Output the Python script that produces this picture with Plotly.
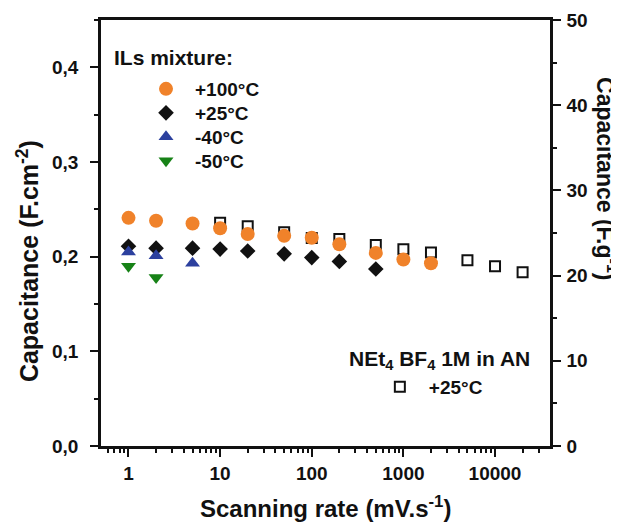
import plotly.graph_objects as go

# ---- data ----
rate_100C = [1, 2, 5, 10, 20, 50, 100, 200, 500, 1000, 2000]
cap_100C = [0.241, 0.238, 0.235, 0.230, 0.224, 0.222, 0.220, 0.213, 0.204, 0.197, 0.193]

rate_25C = [1, 2, 5, 10, 20, 50, 100, 200, 500]
cap_25C = [0.211, 0.209, 0.209, 0.208, 0.206, 0.203, 0.199, 0.195, 0.187]

rate_m40C = [1, 2, 5]
cap_m40C = [0.205, 0.201, 0.193]

rate_m50C = [1, 2]
cap_m50C = [0.190, 0.178]

rate_AN = [10, 20, 50, 100, 200, 500, 1000, 2000, 5000, 10000, 20000]
cap_AN_Fg = [26.2, 25.8, 25.1, 24.4, 24.3, 23.6, 23.1, 22.7, 21.8, 21.1, 20.4]

left_ticks = [0, 0.1, 0.2, 0.3, 0.4]
left_ticktext = ["0,0", "0,1", "0,2", "0,3", "0,4"]
right_ticks = [0, 10, 20, 30, 40, 50]
x_ticks = [1, 10, 100, 1000, 10000]
x_ticktext = ["1", "10", "100", "1000", "10000"]
x_minor = [m * d for d in [0.1, 1, 10, 100, 1000, 10000] for m in range(2, 10)
           if 0.5 <= m * d <= 40000]

FONT = "Liberation Sans, Arial, Helvetica, sans-serif"
ORANGE = "#F0822A"
BLACK = "#111111"
BLUE = "#2C409E"
GREEN = "#178217"

fig = go.Figure()

fig.add_trace(go.Scatter(x=rate_AN, y=cap_AN_Fg, mode="markers", yaxis="y2",
                         name="+25°C", legend="legend2",
                         marker=dict(symbol="square-open", size=10, color=BLACK,
                                     line=dict(width=2, color=BLACK))))
fig.add_trace(go.Scatter(x=rate_25C, y=cap_25C, mode="markers", name="+25°C",
                         legend="legend3",
                         marker=dict(symbol="diamond", size=12, color=BLACK)))
fig.add_trace(go.Scatter(x=rate_m40C, y=cap_m40C, mode="markers", name="-40°C",
                         legend="legend4",
                         marker=dict(symbol="triangle-up", size=13, color=BLUE)))
fig.add_trace(go.Scatter(x=rate_m50C, y=cap_m50C, mode="markers", name="-50°C",
                         legend="legend5",
                         marker=dict(symbol="triangle-down", size=13, color=GREEN)))
fig.add_trace(go.Scatter(x=rate_100C, y=cap_100C, mode="markers", name="+100°C",
                         legend="legend",
                         marker=dict(symbol="circle", size=14, color=ORANGE)))

axis_common = dict(showline=True, linecolor=BLACK, linewidth=2.5, ticks="outside",
                   tickcolor=BLACK, tickwidth=2, ticklen=8, showgrid=False, zeroline=False,
                   automargin=False,
                   tickfont=dict(family=FONT, size=19, color=BLACK, weight="bold"))


def leg(x, y, size=19):
    return dict(x=x, y=y, xanchor="left", yanchor="middle", itemwidth=48,
                bgcolor="rgba(0,0,0,0)", borderwidth=0,
                font=dict(family=FONT, size=size, color=BLACK, weight="bold"))


fig.update_layout(
    width=611, height=514,
    margin=dict(l=93, r=69, t=12, b=76, autoexpand=False),
    paper_bgcolor="white", plot_bgcolor="white",
    font=dict(family=FONT, color=BLACK, size=16),
    xaxis=dict(type="log", range=[-0.3, 4.6], tickvals=x_ticks, ticktext=x_ticktext,
               mirror=True,
               minor=dict(tickvals=x_minor, ticks="outside", ticklen=4, tickwidth=1.5,
                          tickcolor=BLACK),
               **axis_common),
    yaxis2=dict(range=[0, 50], tickvals=right_ticks, side="right", anchor="x",
                ticklabelstandoff=2,
                minor=dict(dtick=5, ticks="outside", ticklen=4, tickwidth=1.5,
                           tickcolor=BLACK),
                **axis_common),
    yaxis=dict(range=[0, 0.45], tickvals=left_ticks, ticktext=left_ticktext,
               overlaying="y2", side="left", ticklabelstandoff=8,
               minor=dict(dtick=0.05, ticks="outside", ticklen=4, tickwidth=1.5,
                          tickcolor=BLACK),
               **axis_common),
    legend=leg(0.0802, 0.838),
    legend3=leg(0.0802, 0.7817),
    legend4=leg(0.0802, 0.7254),
    legend5=leg(0.0802, 0.669),
    legend2=leg(0.601, 0.1385),
    showlegend=True,
)

annots = [
    dict(text="<b>ILs mixture:</b>", x=0.0245, y=0.911, xanchor="left", yanchor="middle",
         font=dict(size=21)),
    dict(text="<b>NEt<sub>4</sub> BF<sub>4</sub> 1M in AN</b>", x=0.754, y=0.202,
         xanchor="center", yanchor="middle", font=dict(size=21)),
    dict(text="<b>Capacitance (F.cm<sup>-2</sup>)</b>", x=-0.1626, y=0.434, textangle=-90,
         xanchor="center", yanchor="middle", font=dict(size=25)),
    dict(text="<b>Capacitance (F.g<sup>-1</sup>)</b>", x=1.127, y=0.629, textangle=90,
         xanchor="center", yanchor="middle", font=dict(size=23)),
    dict(text="<b>Scanning rate (mV.s<sup>-1</sup>)</b>", x=0.5, y=-0.143,
         xanchor="center", yanchor="middle", font=dict(size=24)),
]
for a in annots:
    a.update(xref="paper", yref="paper", showarrow=False)
    a["font"].update(family=FONT, color=BLACK)
fig.update_layout(annotations=annots)

fig.write_html("out.html")
